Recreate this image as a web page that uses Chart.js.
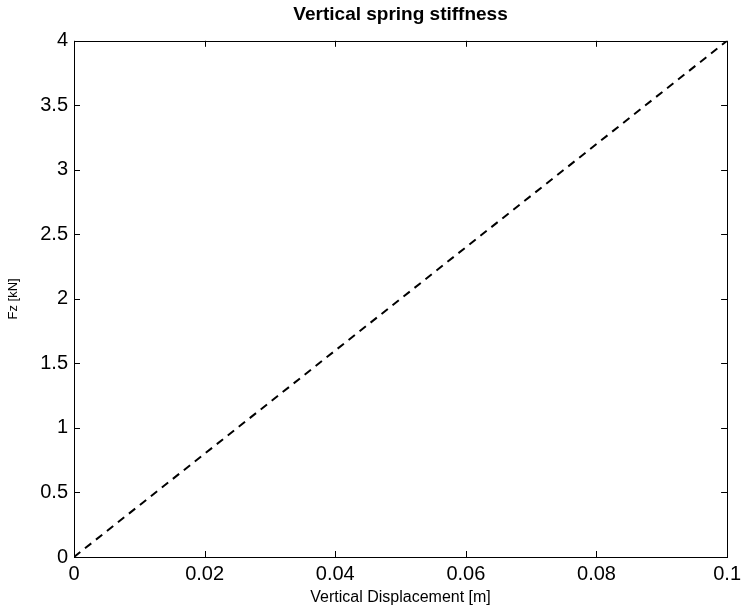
<!DOCTYPE html>
<html>
<head>
    <title>Vertical spring stiffness</title>
    <script src="https://cdnjs.cloudflare.com/ajax/libs/Chart.js/4.4.0/chart.umd.min.js"></script>
    <style>
        body { margin: 0; background: #fff; }
    </style>
</head>
<body>
    <canvas id="myChart" width="746" height="612"></canvas>

    <script>
        // Data
        const displacement = [0, 0.1];
        const force = [0, 4];
        const xTicks = [0, 0.02, 0.04, 0.06, 0.08, 0.1];
        const yTicks = [0, 0.5, 1, 1.5, 2, 2.5, 3, 3.5, 4];

        const fontFamily = "'Liberation Sans', Arial, Helvetica, sans-serif";

        // box round the plot area plus small inward ticks
        const boxPlugin = {
            id: 'box',
            afterDatasetsDraw(chart) {
                const { ctx, chartArea: a, scales } = chart;
                ctx.save();
                ctx.strokeStyle = '#000';
                ctx.lineWidth = 1;
                ctx.beginPath();
                xTicks.forEach(v => {
                    const px = Math.round(scales.x.getPixelForValue(v)) + 0.5;
                    ctx.moveTo(px, a.bottom); ctx.lineTo(px, a.bottom - 6);
                    ctx.moveTo(px, a.top); ctx.lineTo(px, a.top + 6);
                });
                yTicks.forEach(v => {
                    const py = Math.round(scales.y.getPixelForValue(v)) + 0.5;
                    ctx.moveTo(a.left, py); ctx.lineTo(a.left + 6, py);
                    ctx.moveTo(a.right, py); ctx.lineTo(a.right - 6, py);
                });
                ctx.stroke();
                ctx.strokeRect(Math.round(a.left) + 0.5, Math.round(a.top) + 0.5,
                    Math.round(a.right - a.left), Math.round(a.bottom - a.top));
                ctx.restore();
            }
        };

        const fmt = v => String(Number(v.toFixed(2)));

        const config = {
            type: 'scatter',
            data: {
                datasets: [{
                    data: displacement.map((x, i) => ({ x: x, y: force[i] })),
                    showLine: true,
                    borderColor: '#000',
                    borderWidth: 2,
                    borderDash: [8, 6],
                    pointRadius: 0,
                    fill: false
                }]
            },
            options: {
                responsive: false,
                animation: false,
                layout: { padding: { left: 0, right: 17, top: 0, bottom: 0 } },
                plugins: {
                    legend: { display: false },
                    tooltip: { enabled: false },
                    title: {
                        display: true,
                        fullSize: false,
                        text: 'Vertical spring stiffness',
                        color: '#000',
                        font: { family: fontFamily, size: 19, weight: 'bold' },
                        padding: { top: 3, bottom: 15 }
                    }
                },
                scales: {
                    x: {
                        type: 'linear',
                        min: 0,
                        max: 0.1,
                        afterBuildTicks: s => { s.ticks = xTicks.map(v => ({ value: v })); },
                        afterFit: s => { s.height = 55; },
                        grid: { display: false, drawTicks: false },
                        border: { display: false },
                        ticks: {
                            color: '#000',
                            padding: 5,
                            maxRotation: 0,
                            font: { family: fontFamily, size: 20 },
                            callback: fmt
                        },
                        title: {
                            display: true,
                            text: 'Vertical Displacement [m]',
                            color: '#000',
                            font: { family: fontFamily, size: 16 },
                            padding: { top: 0, bottom: 5 }
                        }
                    },
                    y: {
                        type: 'linear',
                        min: 0,
                        max: 4,
                        afterBuildTicks: s => { s.ticks = yTicks.map(v => ({ value: v })); },
                        afterFit: s => { s.width = 74; },
                        grid: { display: false, drawTicks: false },
                        border: { display: false },
                        ticks: {
                            color: '#000',
                            padding: 6,
                            font: { family: fontFamily, size: 20 },
                            callback: fmt
                        },
                        title: {
                            display: true,
                            text: 'Fz [kN]',
                            color: '#000',
                            font: { family: fontFamily, size: 13 },
                            padding: { top: 6, bottom: 0 }
                        }
                    }
                }
            },
            plugins: [boxPlugin]
        };

        new Chart(document.getElementById('myChart'), config);
    </script>
</body>
</html>
